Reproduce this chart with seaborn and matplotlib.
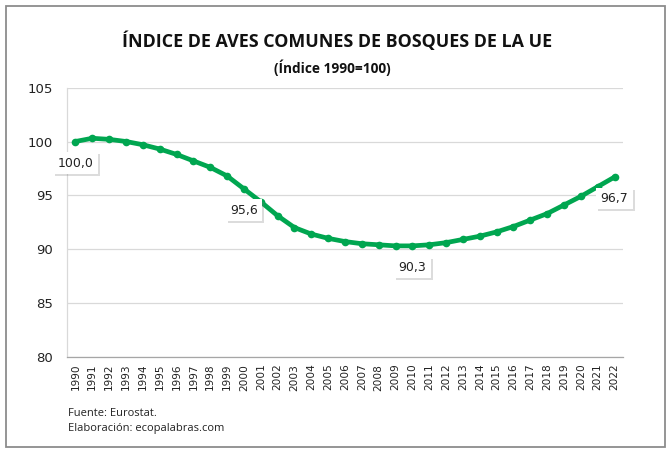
import numpy as np
import pandas as pd
import seaborn as sns
import matplotlib.pyplot as plt
import matplotlib.patheffects as pe
from matplotlib.patches import Rectangle

# Common forest bird index, EU (1990 = 100)
years = list(range(1990, 2023))
index_values = [100.0, 100.3, 100.2, 100.0, 99.7, 99.3, 98.8, 98.2, 97.6, 96.8,
                95.6, 94.4, 93.1, 92.0, 91.4, 91.0, 90.7, 90.5, 90.4, 90.3,
                90.3, 90.4, 90.6, 90.9, 91.2, 91.6, 92.1, 92.7, 93.3, 94.1,
                94.9, 95.8, 96.7]
labelled_years = [1990, 2000, 2010, 2022]
y_ticks = [80, 85, 90, 95, 100, 105]

df = pd.DataFrame({'year': years, 'index': index_values})

GREEN = '#00A650'
GRID = '#d9d9d9'

sns.set_style("white")
plt.rcParams['font.family'] = ['DejaVu Sans']

fig = plt.figure(figsize=(6.72, 4.57), dpi=100)
ax = fig.add_axes([67 / 672, 1 - 356.7 / 457, (623 - 67) / 672, (356.7 - 87.7) / 457])

sns.lineplot(data=df, x='year', y='index', ax=ax, color=GREEN, linewidth=3.4,
             marker='o', markersize=5.5, markeredgewidth=0, zorder=3)

ax.set_xlim(years[0] - 0.5, years[-1] + 0.5)
ax.set_ylim(y_ticks[0], y_ticks[-1])
ax.set_yticks(y_ticks)
ax.set_yticklabels([str(v) for v in y_ticks], fontsize=9.5, color='#222222')
ax.set_xticks(years)
ax.set_xticklabels([str(y) for y in years], rotation=90, fontsize=7.6, color='#222222')
ax.set_xticks(np.arange(years[0] - 0.5, years[-1] + 1, 1), minor=True)
ax.tick_params(axis='x', which='major', length=0, pad=5)
ax.tick_params(axis='x', which='minor', length=4, color='#a6a6a6', width=0.8)
ax.tick_params(axis='y', length=3, color=GRID, width=0.8, pad=7)
ax.set_xlabel('')
ax.set_ylabel('')
ax.grid(axis='y', color=GRID, linewidth=0.9)
ax.set_axisbelow(True)
for side in ['top', 'right']:
    ax.spines[side].set_visible(False)
ax.spines['left'].set_color(GRID)
ax.spines['left'].set_linewidth(0.9)
ax.spines['bottom'].set_color('#a6a6a6')
ax.spines['bottom'].set_linewidth(0.9)

# data labels below selected points
for yr in labelled_years:
    val = index_values[years.index(yr)]
    t = ax.annotate(f'{val:.1f}'.replace('.', ','), xy=(yr, val), xytext=(0, -15.5),
                    textcoords='offset points', ha='center', va='center',
                    fontsize=9, color='#222222', zorder=5,
                    bbox=dict(boxstyle='square,pad=0.35', fc='white', ec='none'))
    t.get_bbox_patch().set_path_effects([
        pe.SimplePatchShadow(offset=(1.5, -1.5), shadow_rgbFace='#777777', alpha=0.25),
        pe.Normal()])

fig.text(337 / 672, 1 - 41 / 457, 'ÍNDICE DE AVES COMUNES DE BOSQUES DE LA UE',
         ha='center', va='center', fontsize=12.9, fontweight='bold',
         family=['Open Sans', 'DejaVu Sans'], color='#111111')
fig.text(332 / 672, 1 - 68 / 457, '(Índice 1990=100)', ha='center', va='center',
         fontsize=9.8, fontweight='bold', family=['Open Sans', 'DejaVu Sans'],
         color='#111111')
fig.text(68 / 672, 1 - 414 / 457, 'Fuente: Eurostat.', ha='left', va='center',
         fontsize=8, family=['Open Sans', 'DejaVu Sans'], color='#222222')
fig.text(68 / 672, 1 - 429 / 457, 'Elaboración: ecopalabras.com', ha='left', va='center',
         fontsize=8, family=['Open Sans', 'DejaVu Sans'], color='#222222')

fig.patches.append(Rectangle((6 / 672, 1 - 447 / 457), 659 / 672, 441 / 457,
                             transform=fig.transFigure, fill=False,
                             edgecolor='#8c8c8c', linewidth=1.3))

fig.savefig('out.png', dpi=100)
